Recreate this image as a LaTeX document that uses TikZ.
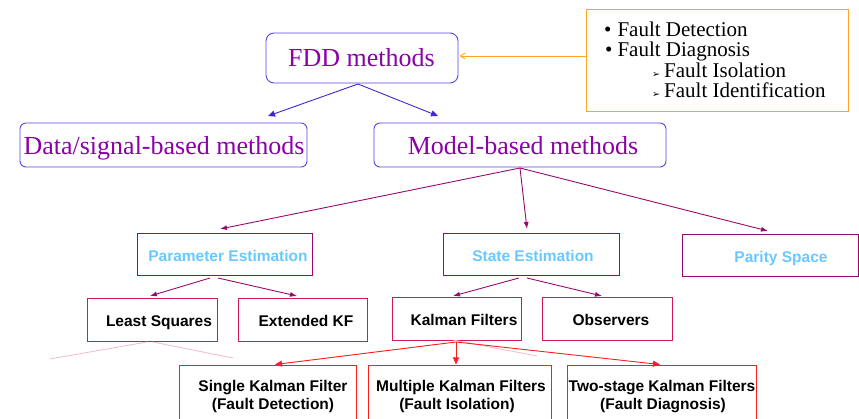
\documentclass[tikz,border=0pt]{standalone}
\usepackage{fontspec}
\setmainfont{Liberation Serif}
\setsansfont{Liberation Sans}
\newfontfamily\dingfont{DejaVu Sans}
\newcommand\subarrowfont{\dingfont\fontsize{9.5}{10}\selectfont}
\usetikzlibrary{arrows.meta}

\definecolor{fddblue}{RGB}{60,40,205}
\definecolor{fddbox}{RGB}{90,70,225}
\definecolor{headtxt}{RGB}{140,0,170}
\definecolor{plum}{RGB}{150,10,110}
\definecolor{crimson}{RGB}{210,25,85}
\definecolor{redline}{RGB}{250,30,30}
\definecolor{orangeline}{RGB}{255,165,40}
\definecolor{skytxt}{RGB}{105,200,255}
\definecolor{ghost}{RGB}{245,185,205}

\tikzset{
  roundbox/.style={draw=fddbox, line width=0.9pt, rounded corners=8pt, inner sep=0pt},
  infobox/.style={draw=orangeline, line width=0.9pt, inner sep=0pt},
  estbox/.style={draw=plum, line width=0.9pt, inner sep=0pt},
  algbox/.style={draw=crimson, line width=0.9pt, inner sep=0pt},
  kfbox/.style={draw=redline, line width=0.9pt, inner sep=0pt},
  serifhead/.style={anchor=base, inner sep=0pt, text=headtxt, font=\fontsize{26}{30}\selectfont},
  bluelabel/.style={anchor=base, inner sep=0pt, text=skytxt, font=\sffamily\bfseries\fontsize{15.5}{18}\selectfont},
  blacklabel/.style={anchor=base, inner sep=0pt, text=black, font=\sffamily\bfseries\fontsize{15.5}{18}\selectfont},
  listline/.style={anchor=base west, inner sep=0pt, font=\fontsize{21}{24}\selectfont},
  blueedge/.style={draw=fddblue, line width=0.9pt, -{Triangle[length=7pt,width=6pt]}},
  plumedge/.style={draw=plum, line width=0.9pt, -{Latex[length=7pt,width=5pt]}},
  rededge/.style={draw=redline, line width=0.9pt, -{Triangle[length=7pt,width=6pt]}},
  orangeedge/.style={draw=orangeline, line width=0.9pt, -{Straight Barb[length=5pt,width=6pt]}},
  ghostline/.style={draw=ghost, line width=0.8pt}
}

\begin{document}
\begin{tikzpicture}[x=1pt,y=-1pt]
\useasboundingbox (0,0) rectangle (859,419);
\clip (0,0) rectangle (859,419);

% boxes
\node[roundbox, minimum width=192pt, minimum height=50pt] (fdd) at (362,58) {};
\node[infobox, minimum width=262pt, minimum height=102pt] (info) at (717,60) {};
\node[roundbox, rounded corners=6pt, minimum width=287pt, minimum height=44pt] (data) at (163.5,145) {};
\node[roundbox, rounded corners=6pt, minimum width=292pt, minimum height=44pt] (model) at (520,145) {};

\node[estbox, minimum width=175pt, minimum height=42pt] (pe) at (224.5,254) {};
\node[estbox, minimum width=176pt, minimum height=42pt] (se) at (531,254) {};
\node[estbox, minimum width=176pt, minimum height=42pt] (ps) at (770,255) {};

\node[algbox, minimum width=130pt, minimum height=43pt] (ls) at (152,319.5) {};
\node[algbox, minimum width=129pt, minimum height=43pt] (ekf) at (302.5,319.5) {};
\node[algbox, minimum width=129pt, minimum height=43pt] (kf) at (456.5,318.5) {};
\node[algbox, minimum width=130pt, minimum height=43pt] (obs) at (607,318.5) {};

\node[kfbox, minimum width=177pt, minimum height=65pt] (skf) at (267.5,397.5) {};
\node[kfbox, minimum width=183pt, minimum height=65pt] (mkf) at (459.5,397.5) {};
\node[kfbox, minimum width=189pt, minimum height=65pt] (tkf) at (661.5,397.5) {};

% labels
\node[serifhead] (fdd-t) at (361.5,67) {FDD methods};
\node[serifhead] (data-t) at (164,155) {Data/signal-based methods};
\node[serifhead] (model-t) at (523,155) {Model-based methods};

\node[bluelabel] (pe-t) at (228,262) {Parameter Estimation};
\node[bluelabel] (se-t) at (533,262) {State Estimation};
\node[bluelabel] (ps-t) at (781,263) {Parity Space};

\node[blacklabel] (ls-t) at (159,327) {Least Squares};
\node[blacklabel] (ekf-t) at (306,327) {Extended KF};
\node[blacklabel] (kf-t) at (464,326) {Kalman Filters};
\node[blacklabel] (obs-t) at (611,326) {Observers};

\node[blacklabel] (skf-a) at (273,391) {Single Kalman Filter};
\node[blacklabel] (skf-b) at (273,409) {(Fault Detection)};
\node[blacklabel] (mkf-a) at (461,391) {Multiple Kalman Filters};
\node[blacklabel] (mkf-b) at (457,409) {(Fault Isolation)};
\node[blacklabel] (tkf-a) at (662,391) {Two-stage Kalman Filters};
\node[blacklabel] (tkf-b) at (663,409) {(Fault Diagnosis)};

% list of FDD tasks
\node[listline] (li1) at (604,37) {•\hspace{6pt}Fault Detection};
\node[listline] (li2) at (605,56.5) {•\hspace{5pt}Fault Diagnosis};
\node[listline] (li3) at (652,77.5) {{\subarrowfont ➢}\hspace{4pt}Fault Isolation};
\node[listline] (li4) at (652,97.5) {{\subarrowfont ➢}\hspace{4pt}Fault Identification};

% free ends of the connectors
\coordinate (fdd-foot) at (358,84);
\coordinate (d-end) at (268,116);
\coordinate (m-end) at (438,116);

\coordinate (model-foot) at (520,168);
\coordinate (pe-end) at (220,229);
\coordinate (se-end) at (527,229);
\coordinate (ps-end) at (768,231);

\coordinate (pe-footL) at (210,278);
\coordinate (pe-footR) at (218,278);
\coordinate (ls-end) at (150,296);
\coordinate (ekf-end) at (297,296);

\coordinate (se-footL) at (519,278);
\coordinate (se-footR) at (527,278);
\coordinate (kf-end) at (453,296);
\coordinate (obs-end) at (602,296);

\coordinate (kf-foot) at (456,342);
\coordinate (skf-end) at (275,364.5);
\coordinate (mkf-end) at (456,364.5);
\coordinate (tkf-end) at (660,364.5);

\coordinate (g1a) at (147,342);
\coordinate (g1b) at (50,359);
\coordinate (g2a) at (153,342);
\coordinate (g2b) at (233,358);
\coordinate (g3a) at (453,340);
\coordinate (g3b) at (537,356);

% connectors
\draw[orangeedge] ([yshift=4pt]info.west) -- ([yshift=2pt,xshift=1pt]fdd.east);

\draw[blueedge] (fdd-foot) -- (d-end);
\draw[blueedge] (fdd-foot) -- (m-end);

\draw[plumedge] (model-foot) -- (pe-end);
\draw[plumedge] (model-foot) -- (se-end);
\draw[plumedge] (model-foot) -- (ps-end);

\draw[plumedge] (pe-footL) -- (ls-end);
\draw[plumedge] (pe-footR) -- (ekf-end);
\draw[plumedge] (se-footL) -- (kf-end);
\draw[plumedge] (se-footR) -- (obs-end);

\draw[ghostline] (g1a) -- (g1b);
\draw[ghostline] (g2a) -- (g2b);
\draw[ghostline] (g3a) -- (g3b);

\draw[rededge] (kf-foot) -- (skf-end);
\draw[rededge] (kf-foot) -- (mkf-end);
\draw[rededge] (kf-foot) -- (tkf-end);
\end{tikzpicture}
\end{document}
